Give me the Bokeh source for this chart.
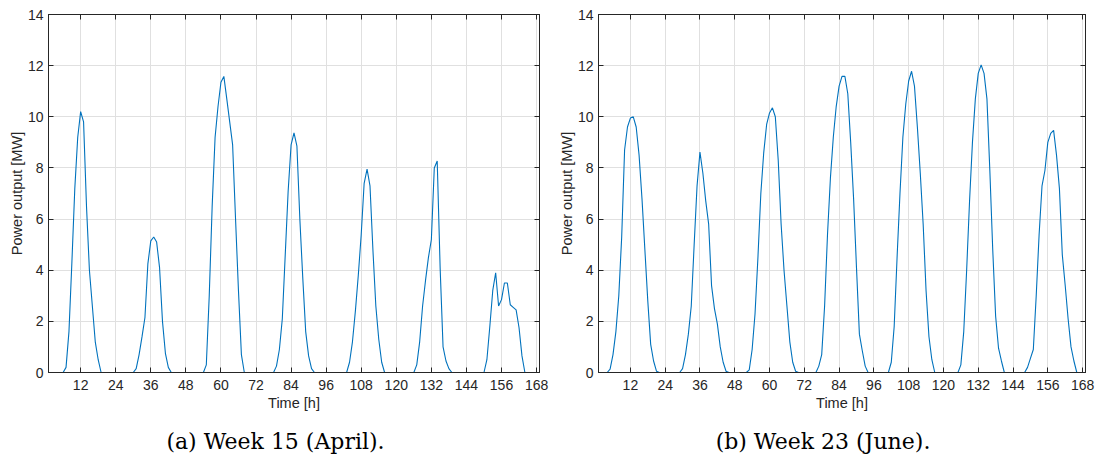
from bokeh.plotting import figure
from bokeh.layouts import row, column
from bokeh.models import LinearAxis, FixedTicker, ColumnDataSource
from bokeh.core.properties import value
from bokeh.embed import file_html
from bokeh.resources import INLINE

# ---- data -------------------------------------------------------------
hours = list(range(1, 169))

# Week 15 (April), hourly power output [MW], one list per day
w15_day1 = [0, 0, 0, 0, 0, 0, 0.2, 1.6, 4.3, 7.2, 9.2, 10.2, 9.8, 6.5, 4.0, 2.6, 1.2, 0.5, 0, 0, 0, 0, 0, 0]
w15_day2 = [0, 0, 0, 0, 0, 0, 0.15, 0.7, 1.4, 2.15, 4.25, 5.15, 5.3, 5.1, 4.1, 2.0, 0.75, 0.2, 0, 0, 0, 0, 0, 0]
w15_day3 = [0, 0, 0, 0, 0, 0, 0.3, 3.0, 6.5, 9.2, 10.4, 11.35, 11.58, 10.7, 9.8, 8.9, 6.0, 3.2, 0.7, 0, 0, 0, 0, 0]
w15_day4 = [0, 0, 0, 0, 0, 0, 0.25, 0.9, 2.1, 4.6, 7.1, 8.9, 9.37, 8.85, 6.0, 3.7, 1.6, 0.65, 0.15, 0, 0, 0, 0, 0]
w15_day5 = [0, 0, 0, 0, 0, 0, 0, 0.4, 1.2, 2.4, 3.8, 5.4, 7.4, 7.95, 7.3, 4.8, 2.6, 1.3, 0.4, 0, 0, 0, 0, 0]
w15_day6 = [0, 0, 0, 0, 0, 0, 0.3, 1.2, 2.6, 3.6, 4.5, 5.2, 8.0, 8.27, 4.1, 1.0, 0.45, 0.15, 0, 0, 0, 0, 0, 0]
w15_day7 = [0, 0, 0, 0, 0, 0, 0.5, 1.8, 3.2, 3.9, 2.6, 2.85, 3.5, 3.5, 2.65, 2.55, 2.45, 1.75, 0.65, 0, 0, 0, 0, 0]

# Week 23 (June)
w23_day1 = [0, 0, 0, 0, 0.13, 0.7, 1.6, 3.0, 5.3, 8.7, 9.6, 9.95, 10.0, 9.6, 8.5, 6.8, 4.8, 2.8, 1.1, 0.45, 0.05, 0, 0, 0]
w23_day2 = [0, 0, 0, 0, 0, 0.15, 0.7, 1.5, 2.6, 5.0, 7.3, 8.62, 7.8, 6.7, 5.8, 3.4, 2.5, 1.9, 1.0, 0.4, 0.05, 0, 0, 0]
w23_day3 = [0, 0, 0, 0, 0.1, 0.9, 2.3, 4.5, 7.0, 8.6, 9.7, 10.15, 10.35, 10.0, 8.3, 5.8, 4.0, 2.6, 1.2, 0.4, 0.05, 0, 0, 0]
w23_day4 = [0, 0, 0, 0, 0.25, 0.7, 2.6, 5.4, 7.6, 9.2, 10.4, 11.2, 11.58, 11.58, 10.9, 9.0, 6.8, 4.1, 1.5, 0.85, 0.25, 0, 0, 0]
w23_day5 = [0, 0, 0, 0, 0, 0.4, 1.8, 4.5, 7.0, 9.2, 10.5, 11.4, 11.78, 11.2, 9.6, 7.8, 5.8, 3.2, 1.4, 0.5, 0, 0, 0, 0]
w23_day6 = [0, 0, 0, 0, 0, 0.3, 1.6, 4.0, 6.7, 9.0, 10.7, 11.7, 12.03, 11.7, 10.7, 7.9, 4.8, 2.2, 0.95, 0.45, 0, 0, 0, 0]
w23_day7 = [0, 0, 0, 0, 0.2, 0.55, 0.9, 3.0, 5.4, 7.3, 7.9, 9.0, 9.35, 9.47, 8.5, 7.2, 4.6, 3.4, 2.1, 1.0, 0.45, 0, 0, 0]

x_ticks = [12, 24, 36, 48, 60, 72, 84, 96, 108, 120, 132, 144, 156, 168]
y_ticks = [0, 2, 4, 6, 8, 10, 12, 14]

captions = ["(a) Week 15 (April).", "(b) Week 23 (June)."]
x_label = "Time [h]"
y_label = "Power output [MW]"

week15 = w15_day1 + w15_day2 + w15_day3 + w15_day4 + w15_day5 + w15_day6 + w15_day7
week23 = w23_day1 + w23_day2 + w23_day3 + w23_day4 + w23_day5 + w23_day6 + w23_day7

# ---- style ------------------------------------------------------------
LINE = "#0072BD"
DARK = "#262626"
GRID = "#e0e0e0"
SANS = "Liberation Sans"
PLOT_H = 415
CAP_H = 40


def style_axis(ax, ticks, show_labels):
    ax.ticker = FixedTicker(ticks=ticks)
    ax.minor_tick_line_color = None
    ax.major_tick_in = 5
    ax.major_tick_out = 0
    ax.major_tick_line_color = DARK
    ax.axis_line_color = DARK
    ax.major_label_text_font = SANS
    ax.major_label_text_font_size = "14px"
    ax.major_label_text_color = DARK
    ax.axis_label_text_font = SANS
    ax.axis_label_text_font_size = "14.5px"
    ax.axis_label_text_font_style = "normal"
    ax.axis_label_text_color = DARK
    if not show_labels:
        ax.major_label_overrides = {t: "" for t in ticks}
        ax.major_label_standoff = 0


def make_panel(values, width, border_left, border_right):
    p = figure(width=width, height=PLOT_H, x_range=(1, 169), y_range=(0, 14),
               output_backend="svg", toolbar_location=None,
               min_border_left=border_left, min_border_right=border_right,
               min_border_top=14, min_border_bottom=PLOT_H - 372,
               x_axis_label=x_label, y_axis_label=y_label)
    p.background_fill_color = "white"
    p.border_fill_color = "white"
    p.outline_line_color = DARK
    p.outline_line_width = 1

    src = ColumnDataSource(data=dict(h=hours, v=values))
    p.line("h", "v", source=src, line_color=LINE, line_width=1.1)

    style_axis(p.xaxis[0], x_ticks, True)
    style_axis(p.yaxis[0], y_ticks, True)
    p.xaxis[0].major_label_standoff = 7
    p.xaxis[0].axis_label_standoff = 2
    p.yaxis[0].major_label_standoff = 5
    p.yaxis[0].axis_label_standoff = 0

    top = LinearAxis()
    style_axis(top, x_ticks, False)
    p.add_layout(top, "above")
    right = LinearAxis()
    style_axis(right, y_ticks, False)
    p.add_layout(right, "right")

    p.xgrid.ticker = FixedTicker(ticks=x_ticks)
    p.ygrid.ticker = FixedTicker(ticks=y_ticks)
    p.xgrid.grid_line_color = GRID
    p.ygrid.grid_line_color = GRID
    return p


def make_caption(text, width):
    c = figure(width=width, height=CAP_H, x_range=(0, 1), y_range=(0, 1),
               output_backend="svg", toolbar_location=None,
               x_axis_type=None, y_axis_type=None,
               min_border=0)
    c.outline_line_color = None
    c.xgrid.visible = False
    c.ygrid.visible = False
    src = ColumnDataSource(data=dict(x=[0.5], y=[0.35], t=[text]))
    c.text("x", "y", text="t", source=src, text_align="center",
           text_baseline="middle", text_font=value("DejaVu Serif"),
           text_font_size="22px", text_color="black")
    return c


p1 = make_panel(week15, 550, 48, 11)
p2 = make_panel(week23, 545, 48, 10)
c1 = make_caption(captions[0], 550)
c2 = make_caption(captions[1], 545)

layout = column(row(p1, p2), row(c1, c2))
open("out.html", "w").write(file_html(layout, INLINE))
